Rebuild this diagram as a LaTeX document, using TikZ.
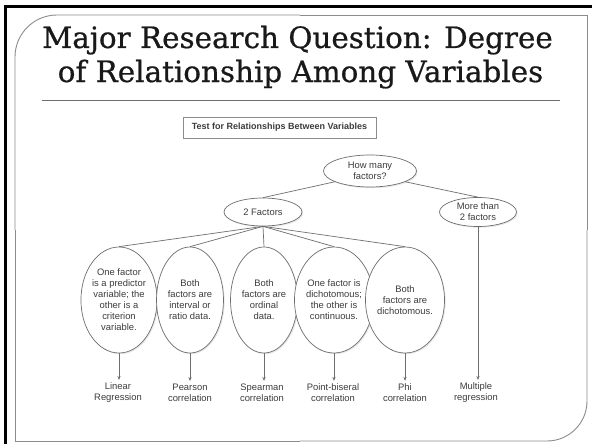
\documentclass[tikz,border=0pt]{standalone}
\usepackage{fontspec}
\setmainfont{Liberation Sans}
\newfontfamily\titlefont[FakeBold=0.6]{DejaVu Serif}
\usetikzlibrary{shapes.geometric,arrows.meta,shadows}
\definecolor{txt}{HTML}{3C3C3C}
\definecolor{ln}{HTML}{6E6E6E}
\definecolor{framec}{HTML}{8C8C8C}
\tikzset{
  frame/.style={draw=framec, line width=0.9pt},
  oval/.style={ellipse, draw=ln, line width=0.7pt, fill=white, inner sep=0pt, align=center,
     text=txt, font=\fontsize{9.4}{11}\selectfont,
     drop shadow={shadow xshift=1.2pt, shadow yshift=-1.2pt, opacity=0.18}},
  tall/.style={oval, minimum width=67pt, minimum height=106pt},
  result/.style={align=center, text=txt, font=\fontsize{9.4}{11}\selectfont, inner sep=1pt},
  conn/.style={draw=ln, line width=0.7pt},
  arr/.style={conn, -{Stealth[length=4pt,width=3.2pt]}, shorten >=2pt},
  titletext/.style={anchor=base, inner sep=0pt, text=black!90, font=\titlefont\fontsize{29.4}{36}\selectfont}
}
\begin{document}
\begin{tikzpicture}[x=1pt,y=-1pt]
\useasboundingbox (0,0) rectangle (592,444);
\fill[white] (0,0) rectangle (592,444);
% black screenshot border
\fill[black] (3.5,5.5) rectangle (7,444);
\fill[black] (3.5,5.5) rectangle (592,8.5);
% slide frame
\draw[frame] (15,230) -- (15,441) -- (300,441);
\draw[frame,rounded corners=40pt] (300,441) -- (587,441) -- (587,230);
\draw[frame] (587,230) -- (587,15) -- (300,15);
\draw[frame,rounded corners=42pt] (300,15) -- (15,15) -- (15,230);
% title
\node[titletext] (t1) at (297.5,48) {Major Research Question: Degree};
\node[titletext] (t2) at (300.5,82) {of Relationship Among Variables};
\coordinate (rl) at (42,100);
\coordinate (rr) at (560,100);
\draw[draw=ln, line width=0.9pt] (rl) -- (rr);
% heading box
\node[draw=framec, line width=0.7pt, fill=white, minimum width=193pt, minimum height=21pt,
      inner sep=0pt, text=txt, font=\bfseries\fontsize{9}{10}\selectfont,
      drop shadow={shadow xshift=1pt, shadow yshift=-1pt, opacity=0.15}]
      (head) at (279.5,127.5) {Test for Relationships Between Variables};
% tree
\node[oval, minimum width=93pt, minimum height=32pt] (hm) at (370,171) {How many\\factors?};
\node[oval, minimum width=78pt, minimum height=28pt] (tf) at (263,212) {2 Factors};
\node[oval, minimum width=77pt, minimum height=29pt] (mt) at (478,212) {More than\\2 factors};
\node[tall] (e1) at (119,300) {One factor\\is a predictor\\variable; the\\other is a\\criterion\\variable.};
\node[tall] (e2) at (190,300) {Both\\factors are\\interval or\\ratio data.};
\node[tall] (e3) at (264,300) {Both\\factors are\\ordinal\\data.};
\node[tall] (e4) at (334,300) {One factor is\\dichotomous;\\the other is\\continuous.};
\node[tall] (e5) at (405,300) {Both\\factors are\\dichotomous.};
\node[result] (r1) at (118,393) {Linear\\Regression};
\node[result] (r2) at (190,393) {Pearson\\correlation};
\node[result] (r3) at (262,393) {Spearman\\correlation};
\node[result] (r4) at (333,393) {Point-biseral\\correlation};
\node[result] (r5) at (405,393) {Phi\\correlation};
\node[result] (r6) at (476,393) {Multiple\\regression};
% connectors
\draw[conn] (hm.197) -- (tf.north);
\draw[conn] (hm.-17) -- (mt.north);
\draw[conn] (tf.south) -- (e1.north);
\draw[conn] (tf.south) -- (e2.north);
\draw[conn] (tf.south) -- (e3.north);
\draw[conn] (tf.south) -- (e4.north);
\draw[conn] (tf.south) -- (e5.north);
\draw[arr] (e1.south) -- (e1.south |- r1.north);
\draw[arr] (e2.south) -- (e2.south |- r2.north);
\draw[arr] (e3.south) -- (e3.south |- r3.north);
\draw[arr] (e4.south) -- (e4.south |- r4.north);
\draw[arr] (e5.south) -- (e5.south |- r5.north);
\draw[arr] (mt.south) -- (mt.south |- r6.north);
\end{tikzpicture}
\end{document}
